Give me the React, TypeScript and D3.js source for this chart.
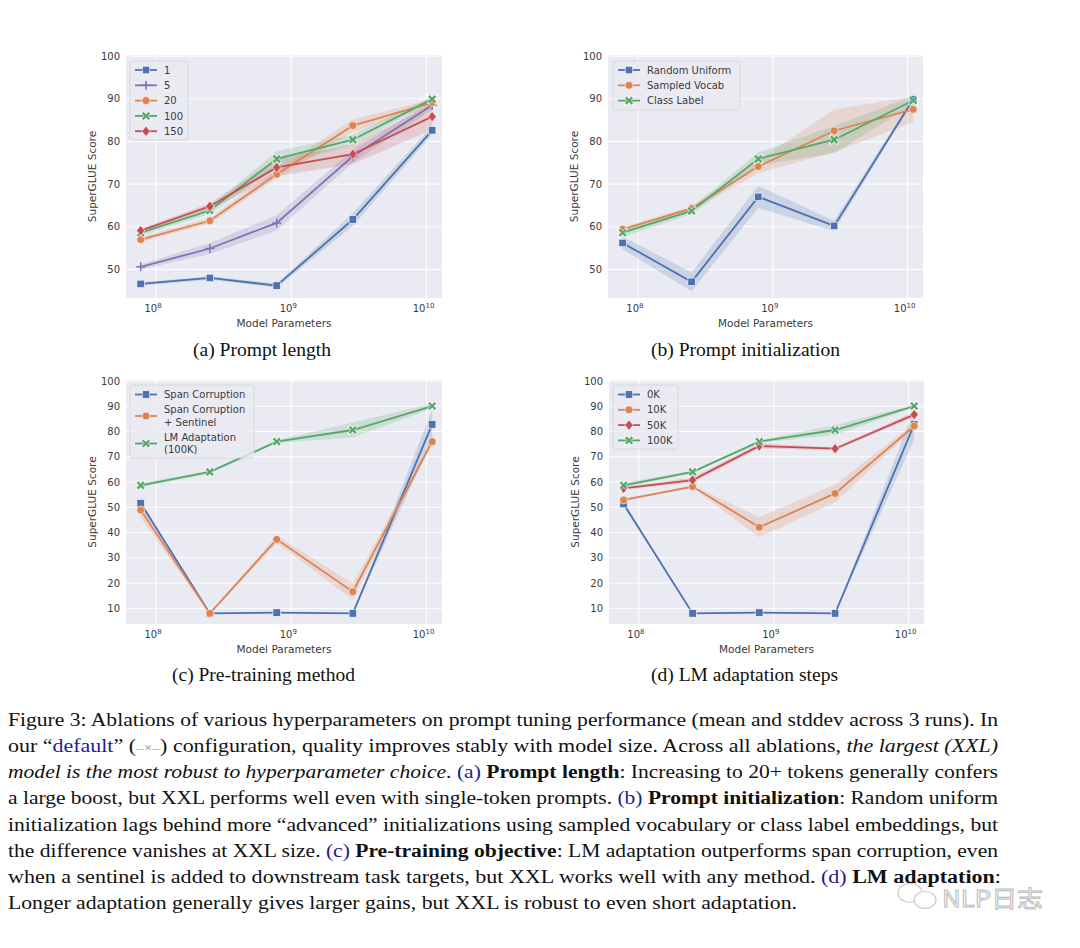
import React from "react";
import * as d3 from "d3";

// ---------- DATA ----------
const SIZES = [7.7e7, 2.5e8, 7.8e8, 2.85e9, 1.1e10];
const X_TICKS = [8, 9, 10];

// (a) Prompt length
const A_LABELS = ["1", "5", "20", "100", "150"];
const A_MEAN_1 = [46.6, 48.0, 46.2, 61.7, 82.6];
const A_STD_1 = [0.4, 0.4, 0.5, 1.5, 1.0];
const A_MEAN_5 = [50.6, 54.9, 60.9, 76.5, 88.5];
const A_STD_5 = [0.6, 1.3, 1.8, 1.5, 1.0];
const A_MEAN_20 = [57.0, 61.4, 72.3, 83.7, 89.1];
const A_STD_20 = [0.6, 0.7, 1.0, 1.5, 0.8];
const A_MEAN_100 = [58.6, 63.8, 75.9, 80.4, 89.9];
const A_STD_100 = [0.7, 0.8, 1.8, 1.2, 0.6];
const A_MEAN_150 = [59.1, 64.8, 73.9, 77.0, 85.8];
const A_STD_150 = [0.5, 0.7, 2.0, 2.3, 3.0];

// (b) Prompt initialization
const B_LABELS = ["Random Uniform", "Sampled Vocab", "Class Label"];
const B_MEAN_RU = [56.2, 47.1, 67.0, 60.2, 89.9];
const B_STD_RU = [1.5, 2.2, 2.6, 1.2, 0.5];
const B_MEAN_SV = [59.4, 64.3, 74.1, 82.5, 87.5];
const B_STD_SV = [0.5, 0.5, 1.5, 5.0, 3.0];
const B_MEAN_CL = [58.6, 63.7, 75.9, 80.4, 89.6];
const B_STD_CL = [1.0, 0.8, 1.5, 3.2, 1.0];

// (c) Pre-training method
const C_LABELS = ["Span Corruption", "Span Corruption\n+ Sentinel", "LM Adaptation\n(100K)"];
const C_MEAN_SC = [51.6, 8.0, 8.3, 8.0, 82.8];
const C_STD_SC = [1.0, 0.2, 0.3, 0.2, 6.0];
const C_MEAN_SCS = [48.9, 8.0, 37.3, 16.6, 76.0];
const C_STD_SCS = [3.0, 0.3, 1.5, 3.2, 1.0];
const C_MEAN_LM = [58.7, 64.0, 76.0, 80.6, 90.1];
const C_STD_LM = [0.8, 0.6, 0.5, 3.0, 1.0];

// (d) LM adaptation steps
const D_LABELS = ["0K", "10K", "50K", "100K"];
const D_MEAN_0K = [51.3, 8.0, 8.3, 8.0, 82.8];
const D_STD_0K = [1.0, 0.2, 0.2, 0.2, 6.0];
const D_MEAN_10K = [52.9, 58.2, 42.1, 55.5, 82.2];
const D_STD_10K = [0.5, 0.5, 4.0, 3.5, 1.0];
const D_MEAN_50K = [57.5, 60.8, 74.3, 73.2, 86.7];
const D_STD_50K = [0.5, 1.0, 1.0, 0.6, 1.0];
const D_MEAN_100K = [58.7, 64.0, 76.0, 80.6, 90.1];
const D_STD_100K = [1.0, 0.5, 0.5, 2.0, 0.5];

const Y_TICKS_AB = [50, 60, 70, 80, 90, 100];
const Y_TICKS_CD = [10, 20, 30, 40, 50, 60, 70, 80, 90, 100];

const SUBTITLES = ["(a) Prompt length", "(b) Prompt initialization", "(c) Pre-training method", "(d) LM adaptation steps"];

// ---------- STYLE ----------
const BLUE = "#4C72B0";
const ORANGE = "#DD8452";
const GREEN = "#55A868";
const RED = "#C44E52";
const PURPLE = "#8172B3";
const BG = "#EAEAF2";
const TXT = "#3a3a3a";
const LINKC = "#1c1c96";

type Marker = "square" | "circle" | "diamond" | "plus" | "x";
type Series = { label: string; mean: number[]; std: number[]; color: string; marker: Marker };

const PANEL_A: Series[] = [
  { label: A_LABELS[0], mean: A_MEAN_1, std: A_STD_1, color: BLUE, marker: "square" },
  { label: A_LABELS[1], mean: A_MEAN_5, std: A_STD_5, color: PURPLE, marker: "plus" },
  { label: A_LABELS[2], mean: A_MEAN_20, std: A_STD_20, color: ORANGE, marker: "circle" },
  { label: A_LABELS[3], mean: A_MEAN_100, std: A_STD_100, color: GREEN, marker: "x" },
  { label: A_LABELS[4], mean: A_MEAN_150, std: A_STD_150, color: RED, marker: "diamond" },
];
const PANEL_B: Series[] = [
  { label: B_LABELS[0], mean: B_MEAN_RU, std: B_STD_RU, color: BLUE, marker: "square" },
  { label: B_LABELS[1], mean: B_MEAN_SV, std: B_STD_SV, color: ORANGE, marker: "circle" },
  { label: B_LABELS[2], mean: B_MEAN_CL, std: B_STD_CL, color: GREEN, marker: "x" },
];
const PANEL_C: Series[] = [
  { label: C_LABELS[0], mean: C_MEAN_SC, std: C_STD_SC, color: BLUE, marker: "square" },
  { label: C_LABELS[1], mean: C_MEAN_SCS, std: C_STD_SCS, color: ORANGE, marker: "circle" },
  { label: C_LABELS[2], mean: C_MEAN_LM, std: C_STD_LM, color: GREEN, marker: "x" },
];
const PANEL_D: Series[] = [
  { label: D_LABELS[0], mean: D_MEAN_0K, std: D_STD_0K, color: BLUE, marker: "square" },
  { label: D_LABELS[1], mean: D_MEAN_10K, std: D_STD_10K, color: ORANGE, marker: "circle" },
  { label: D_LABELS[2], mean: D_MEAN_50K, std: D_STD_50K, color: RED, marker: "diamond" },
  { label: D_LABELS[3], mean: D_MEAN_100K, std: D_STD_100K, color: GREEN, marker: "x" },
];

function MarkerShape({ m, x, y, color }: { m: Marker; x: number; y: number; color: string }) {
  if (m === "square") {
    const s = 7.5;
    return <rect x={x - s / 2} y={y - s / 2} width={s} height={s} fill={color} stroke="#fff" strokeWidth={0.6} />;
  }
  if (m === "circle") return <circle cx={x} cy={y} r={4} fill={color} stroke="#fff" strokeWidth={0.6} />;
  if (m === "diamond") {
    const r = 5.2;
    return <path d={`M${x},${y - r}L${x + r * 0.8},${y}L${x},${y + r}L${x - r * 0.8},${y}Z`} fill={color} stroke="#fff" strokeWidth={0.6} />;
  }
  if (m === "plus") {
    const r = 4.5;
    return <path d={`M${x - r},${y}H${x + r}M${x},${y - r}V${y + r}`} stroke={color} strokeWidth={1.5} fill="none" />;
  }
  const r = 3.3;
  return (
    <g>
      <path d={`M${x - r},${y - r}L${x + r},${y + r}M${x - r},${y + r}L${x + r},${y - r}`} stroke="#fff" strokeWidth={3.6} strokeLinecap="round" fill="none" opacity={0.6} />
      <path d={`M${x - r},${y - r}L${x + r},${y + r}M${x - r},${y + r}L${x + r},${y - r}`} stroke={color} strokeWidth={2.2} fill="none" />
    </g>
  );
}

type PanelProps = {
  left: number; top: number; w: number; h: number;
  yDomain: [number, number]; yTicks: number[]; series: Series[];
  legend: { x: number; y: number; w: number; rows: number[]; h: number };
};

function Panel({ left, top, w, h, yDomain, yTicks, series, legend }: PanelProps) {
  const xs = d3.scaleLog().domain([Math.pow(10, 7.778), Math.pow(10, 10.114)]).range([left, left + w]);
  const ys = d3.scaleLinear().domain(yDomain).range([top + h, top]);
  const line = d3.line<number>().x((_, i) => xs(SIZES[i])).y((v) => ys(v));
  return (
    <g>
      <rect x={left} y={top} width={w} height={h} fill={BG} />
      {yTicks.map((t) => (
        <line key={"gy" + t} x1={left} x2={left + w} y1={ys(t)} y2={ys(t)} stroke="#fff" strokeWidth={1} />
      ))}
      {X_TICKS.map((t) => (
        <line key={"gx" + t} x1={xs(Math.pow(10, t))} x2={xs(Math.pow(10, t))} y1={top} y2={top + h} stroke="#fff" strokeWidth={1} />
      ))}
      {series.map((s, k) => {
        const area = d3.area<number>().x((_, i) => xs(SIZES[i])).y0((v, i) => ys(v - s.std[i])).y1((v, i) => ys(v + s.std[i]));
        return <path key={"a" + k} d={area(s.mean) || ""} fill={s.color} opacity={0.2} />;
      })}
      {series.map((s, k) => (
        <g key={"s" + k}>
          <path d={line(s.mean) || ""} fill="none" stroke={s.color} strokeWidth={1.8} />
          {s.mean.map((v, i) => (
            <MarkerShape key={i} m={s.marker} x={xs(SIZES[i])} y={ys(v)} color={s.color} />
          ))}
        </g>
      ))}
      {yTicks.map((t) => (
        <text key={"ty" + t} x={left - 6} y={ys(t) + 3.6} textAnchor="end" fontSize={10} fill={TXT} fontFamily="DejaVu Sans">{t}</text>
      ))}
      {X_TICKS.map((t) => (
        <text key={"tx" + t} x={xs(Math.pow(10, t)) - 3} y={top + h + 14} textAnchor="middle" fontSize={10} fill={TXT} fontFamily="DejaVu Sans">
          10<tspan dy={-4.5} fontSize={7}>{t}</tspan>
        </text>
      ))}
      <text x={left + w / 2} y={top + h + 28.5} textAnchor="middle" fontSize={10.5} fill={TXT} fontFamily="DejaVu Sans">Model Parameters</text>
      <text transform={`translate(${left - 30},${top + h / 2}) rotate(-90)`} textAnchor="middle" fontSize={10.5} fill={TXT} fontFamily="DejaVu Sans">SuperGLUE Score</text>
      <rect x={legend.x} y={legend.y} width={legend.w} height={legend.h} rx={2.5} fill={BG} fillOpacity={0.8} stroke="#d4d4d4" strokeWidth={0.8} />
      {series.map((s, k) => {
        const cy = legend.rows[k];
        const lines = s.label.split("\n");
        const x0 = legend.x + 5;
        return (
          <g key={"l" + k}>
            <line x1={x0} x2={x0 + 22} y1={cy} y2={cy} stroke={s.color} strokeWidth={1.8} />
            <MarkerShape m={s.marker} x={x0 + 11} y={cy} color={s.color} />
            {lines.map((ln, j) => (
              <text key={j} x={x0 + 29} y={cy + 3.6 + (j - (lines.length - 1) / 2) * 12.5} fontSize={10} fill={TXT} fontFamily="DejaVu Sans">{ln}</text>
            ))}
          </g>
        );
      })}
    </g>
  );
}

const CAP_FONT = "Liberation Serif, Times New Roman, serif";

export default function App() {
  const capLines: React.ReactNode[] = [
    <>Figure 3: Ablations of various hyperparameters on prompt tuning performance (mean and stddev across 3 runs). In</>,
    <>our “<tspan fill={LINKC}>default</tspan>” (<tspan fill={GREEN} fontSize={13}>–×–</tspan>) configuration, quality improves stably with model size.  Across all ablations, <tspan fontStyle="italic">the largest (XXL)</tspan></>,
    <><tspan fontStyle="italic">model is the most robust to hyperparameter choice</tspan>. <tspan fill={LINKC}>(a)</tspan> <tspan fontWeight="bold">Prompt length</tspan>: Increasing to 20+ tokens generally confers</>,
    <>a large boost, but XXL performs well even with single-token prompts. <tspan fill={LINKC}>(b)</tspan> <tspan fontWeight="bold">Prompt initialization</tspan>: Random uniform</>,
    <>initialization lags behind more “advanced” initializations using sampled vocabulary or class label embeddings, but</>,
    <>the difference vanishes at XXL size. <tspan fill={LINKC}>(c)</tspan> <tspan fontWeight="bold">Pre-training objective</tspan>: LM adaptation outperforms span corruption, even</>,
    <>when a sentinel is added to downstream task targets, but XXL works well with any method. <tspan fill={LINKC}>(d)</tspan> <tspan fontWeight="bold">LM adaptation</tspan>:</>,
    <>Longer adaptation generally gives larger gains, but XXL is robust to even short adaptation.</>,
  ];
  const capW = [990, 990, 990, 990, 990, 990, 993, 789];
  const subX = [193, 651, 172, 651];
  const subW = [138, 189, 183, 187];
  return (
    <svg width={1080} height={948} style={{ position: "absolute", left: 0, top: 0, background: "#fff" }}>
      <Panel left={126} top={55} w={316} h={243} yDomain={[43.3, 100.25]} yTicks={Y_TICKS_AB} series={PANEL_A}
        legend={{ x: 130, y: 61, w: 58, h: 79, rows: [70, 85.3, 100.6, 115.9, 131.2] }} />
      <Panel left={608} top={55} w={315} h={243} yDomain={[43.3, 100.25]} yTicks={Y_TICKS_AB} series={PANEL_B}
        legend={{ x: 613, y: 61, w: 127, h: 49, rows: [70, 85.3, 100.6] }} />
      <Panel left={126} top={380} w={316} h={244} yDomain={[3.8, 100.4]} yTicks={Y_TICKS_CD} series={PANEL_C}
        legend={{ x: 130, y: 385, w: 124, h: 73, rows: [394.5, 416, 443.5] }} />
      <Panel left={609} top={380} w={315} h={244} yDomain={[3.8, 100.4]} yTicks={Y_TICKS_CD} series={PANEL_D}
        legend={{ x: 613, y: 385, w: 65, h: 64, rows: [394.5, 409.8, 425.1, 440.4] }} />
      {SUBTITLES.map((t, i) => (
        <text key={t} x={subX[i]} y={i < 2 ? 356 : 681} fontSize={18} fill="#111" fontFamily={CAP_FONT}
          textLength={subW[i]} lengthAdjust="spacingAndGlyphs">{t}</text>
      ))}
      {capLines.map((ln, i) => (
        <text key={i} x={8} y={726 + i * 26.15} fontSize={18.5} fill="#111" fontFamily={CAP_FONT}
          textLength={capW[i]} lengthAdjust="spacingAndGlyphs">{ln}</text>
      ))}
      <g opacity={0.6} stroke="#a8a8a8" fill="#fff" strokeWidth={1.2}>
        <ellipse cx={910} cy={893} rx={12} ry={9.5} />
        <ellipse cx={925} cy={900} rx={11} ry={8.5} />
      </g>
      <text x={942} y={907} fontSize={23} fill="#fff" stroke="#b8b8b8" strokeWidth={0.9} fontFamily="Noto Sans CJK SC"
        textLength={101} lengthAdjust="spacingAndGlyphs">NLP日志</text>
    </svg>
  );
}
